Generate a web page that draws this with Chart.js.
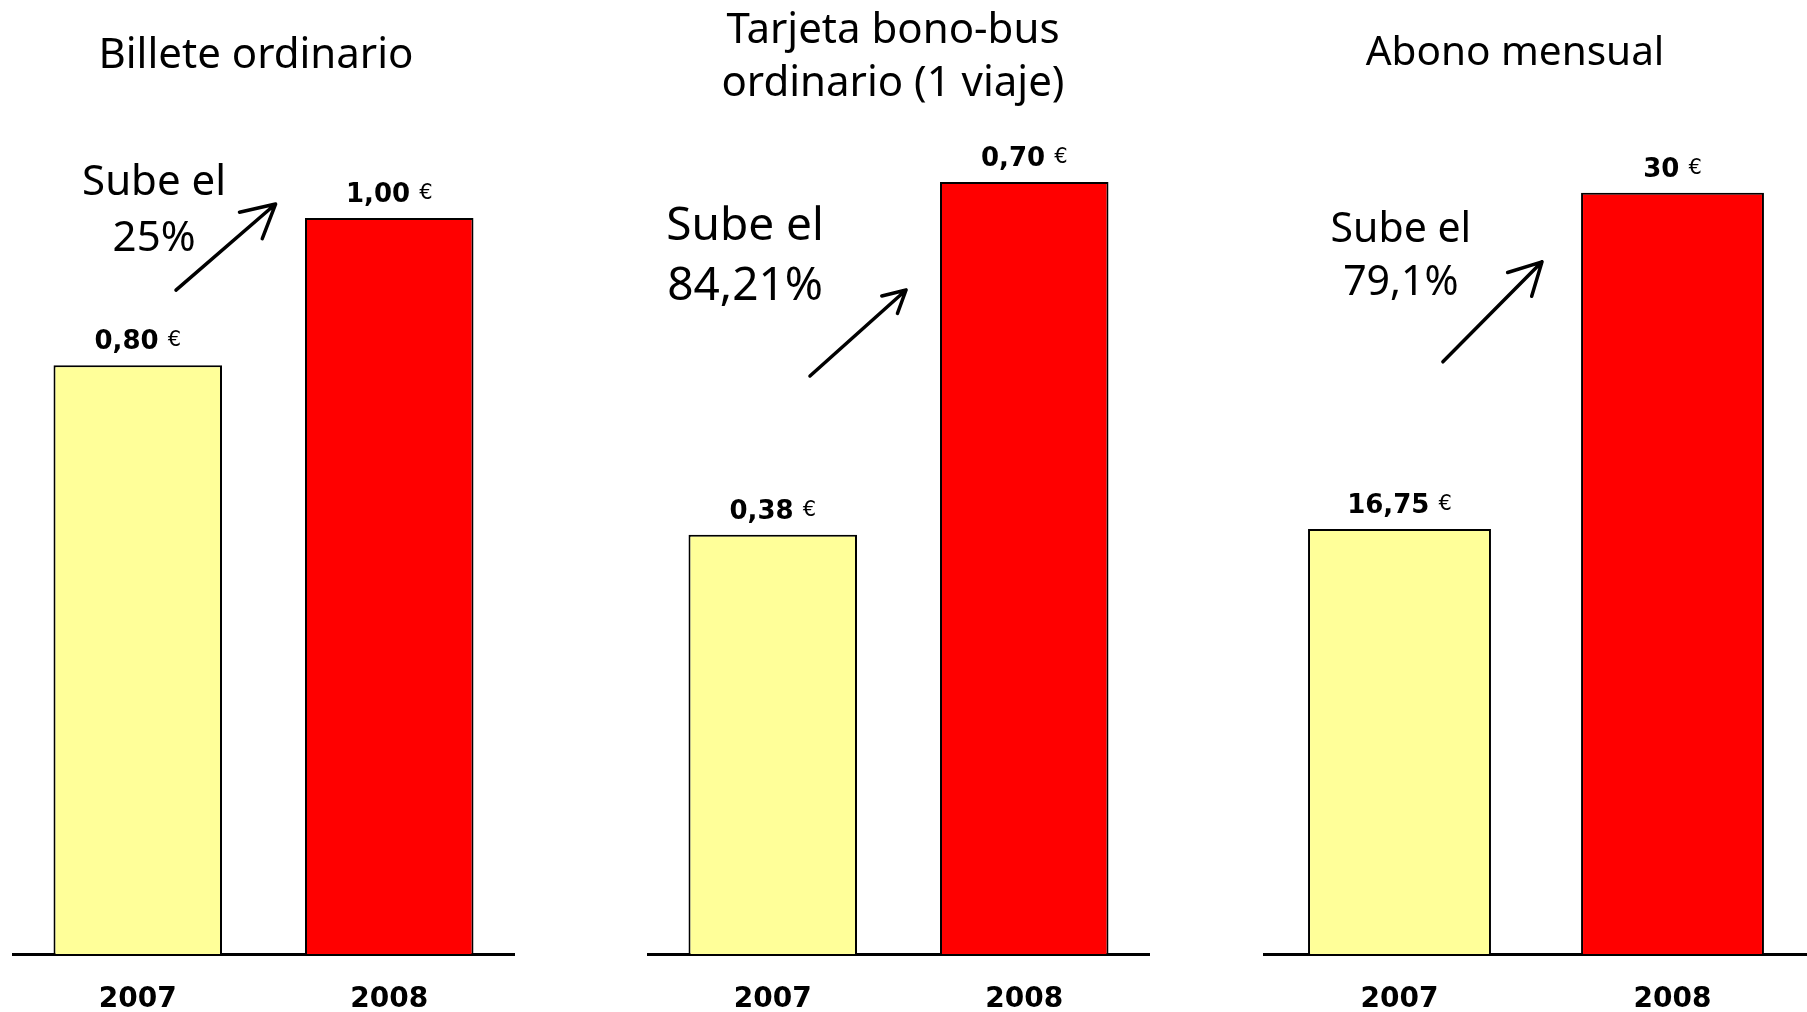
<!DOCTYPE html>
<html lang="es">
<head>
<meta charset="utf-8">
<title>Subida de tarifas 2007 - 2008</title>
<script src="https://cdn.jsdelivr.net/npm/chart.js@4.4.1/dist/chart.umd.min.js"></script>
<style>
    html, body { margin: 0; padding: 0; background: #fff; overflow: hidden; }
    .panel { position: absolute; top: 0; height: 1046px; }
    #billete { left: 12px; width: 503px; }
    #bonobus { left: 647px; width: 503px; }
    #abono { left: 1263px; width: 546px; }
</style>
</head>
<body>
<div class="panel" id="billete"><canvas id="billete_chart"></canvas></div>
<div class="panel" id="bonobus"><canvas id="bonobus_chart"></canvas></div>
<div class="panel" id="abono"><canvas id="abono_chart"></canvas></div>
<script>
// datos
const years = ['2007', '2008'];
const billete_prices = [0.80, 1.00];
const bonobus_prices = [0.38, 0.70];
const abono_prices = [16.75, 30];
const bar_colors = ['#FFFF99', '#FF0000'];

const billete_title = ['Billete ordinario'];
const bonobus_title = ['Tarjeta bono-bus', 'ordinario (1 viaje)'];
const abono_title = ['Abono mensual'];

const billete_note = ['Sube el', '25%'];
const bonobus_note = ['Sube el', '84,21%'];
const abono_note = ['Sube el', '79,1%'];

function euros_2(v) {
    return v.toFixed(2).replace('.', ',');
}

function euros_auto(v) {
    return Number.isInteger(v) ? String(v) : v.toFixed(2).replace('.', ',');
}

function draw_arrow(ctx, x0, y0, x1, y1, head) {
    let angle = Math.atan2(y1 - y0, x1 - x0);
    ctx.beginPath();
    ctx.moveTo(x0, y0);
    ctx.lineTo(x1, y1);
    for (let side of [-1, 1]) {
        let a = angle + Math.PI + side * 0.49;
        ctx.moveTo(x1, y1);
        ctx.lineTo(x1 + head * Math.cos(a), y1 + head * Math.sin(a));
    }
    ctx.stroke();
}

// titulo, etiquetas de precio y flecha "Sube el ..."
function decorations(opts) {
    return {
        id: 'decorations',
        afterDatasetsDraw(chart) {
            let ctx = chart.ctx;
            let x = chart.scales.x;
            let y = chart.scales.y;
            ctx.save();
            ctx.fillStyle = '#000';
            ctx.strokeStyle = '#000';
            ctx.textBaseline = 'alphabetic';

            ctx.textAlign = 'center';
            ctx.font = opts.title_size + 'px "Noto Sans"';
            opts.title.forEach(function (line, i) {
                ctx.fillText(line, x.getPixelForValue(opts.title_x), opts.title_y + i * 53);
            });

            let values = chart.data.datasets[0].data;
            chart.getDatasetMeta(0).data.forEach(function (bar, i) {
                let num = opts.format(values[i]);
                ctx.font = 'bold 26px "DejaVu Sans"';
                let w_num = ctx.measureText(num + ' ').width;
                ctx.font = '21px "DejaVu Sans"';
                let w_eur = ctx.measureText('€').width;
                let left = bar.x - (w_num + w_eur) / 2;
                let base = bar.y - 16;
                ctx.textAlign = 'left';
                ctx.font = 'bold 26px "DejaVu Sans"';
                ctx.fillText(num, left, base);
                ctx.font = '21px "DejaVu Sans"';
                ctx.fillText('€', left + w_num, base - 3);
            });

            ctx.textAlign = 'center';
            ctx.font = opts.note_size + 'px "Noto Sans"';
            let nx = x.getPixelForValue(opts.note_at[0]);
            let ny = y.getPixelForValue(opts.note_at[1]);
            opts.note.forEach(function (line, i) {
                ctx.fillText(line, nx, ny + i * opts.note_gap);
            });

            ctx.lineWidth = 3.5;
            ctx.lineCap = 'round';
            let a = opts.arrow;
            draw_arrow(ctx,
                x.getPixelForValue(a[0]), y.getPixelForValue(a[1]),
                x.getPixelForValue(a[2]), y.getPixelForValue(a[3]),
                opts.head);
            ctx.restore();
        }
    };
}

function make_param(values, y_max, deco) {
    return {
        type: 'bar',
        data: {
            labels: years,
            datasets: [{
                data: values,
                backgroundColor: bar_colors,
                borderColor: '#000',
                borderWidth: 2,
                barPercentage: 0.67,
                categoryPercentage: 1,
            }]
        },
        options: {
            responsive: true,
            maintainAspectRatio: false,
            animation: false,
            layout: { padding: { top: 120, left: 0, right: 0, bottom: 0 } },
            plugins: {
                legend: { display: false },
                tooltip: { enabled: false },
                title: { display: false },
            },
            scales: {
                x: {
                    grid: { display: false, drawTicks: false },
                    border: { display: true, color: '#000', width: 3 },
                    ticks: {
                        color: '#000',
                        padding: 32,
                        font: { family: 'DejaVu Sans', weight: 'bold', size: 28, lineHeight: '28px' },
                    },
                },
                y: { display: false, min: 0, max: y_max },
            },
        },
        plugins: [decorations(deco)],
    };
}

let billete_param = make_param(billete_prices, 1.1332, {
    title: billete_title, title_x: 0.47, title_y: 68, title_size: 42,
    format: euros_2,
    note: billete_note, note_at: [0.065, 1.031], note_size: 42, note_gap: 56,
    arrow: [0.152, 0.902, 0.548, 1.019], head: 37,
});

let bonobus_param = make_param(bonobus_prices, 0.7561, {
    title: bonobus_title, title_x: 0.478, title_y: 43, title_size: 42,
    format: euros_2,
    note: bonobus_note, note_at: [-0.11, 0.647], note_size: 46, note_gap: 60,
    arrow: [0.148, 0.524, 0.53, 0.602], head: 25,
});

let abono_param = make_param(abono_prices, 32.87, {
    title: abono_title, title_x: 0.423, title_y: 65, title_size: 40.5,
    format: euros_auto,
    note: abono_note, note_at: [0.005, 28.07], note_size: 41, note_gap: 53,
    arrow: [0.159, 23.34, 0.522, 27.28], head: 36,
});

let billete_chart = new Chart(document.getElementById('billete_chart'), billete_param);
let bonobus_chart = new Chart(document.getElementById('bonobus_chart'), bonobus_param);
let abono_chart = new Chart(document.getElementById('abono_chart'), abono_param);
</script>
</body>
</html>
